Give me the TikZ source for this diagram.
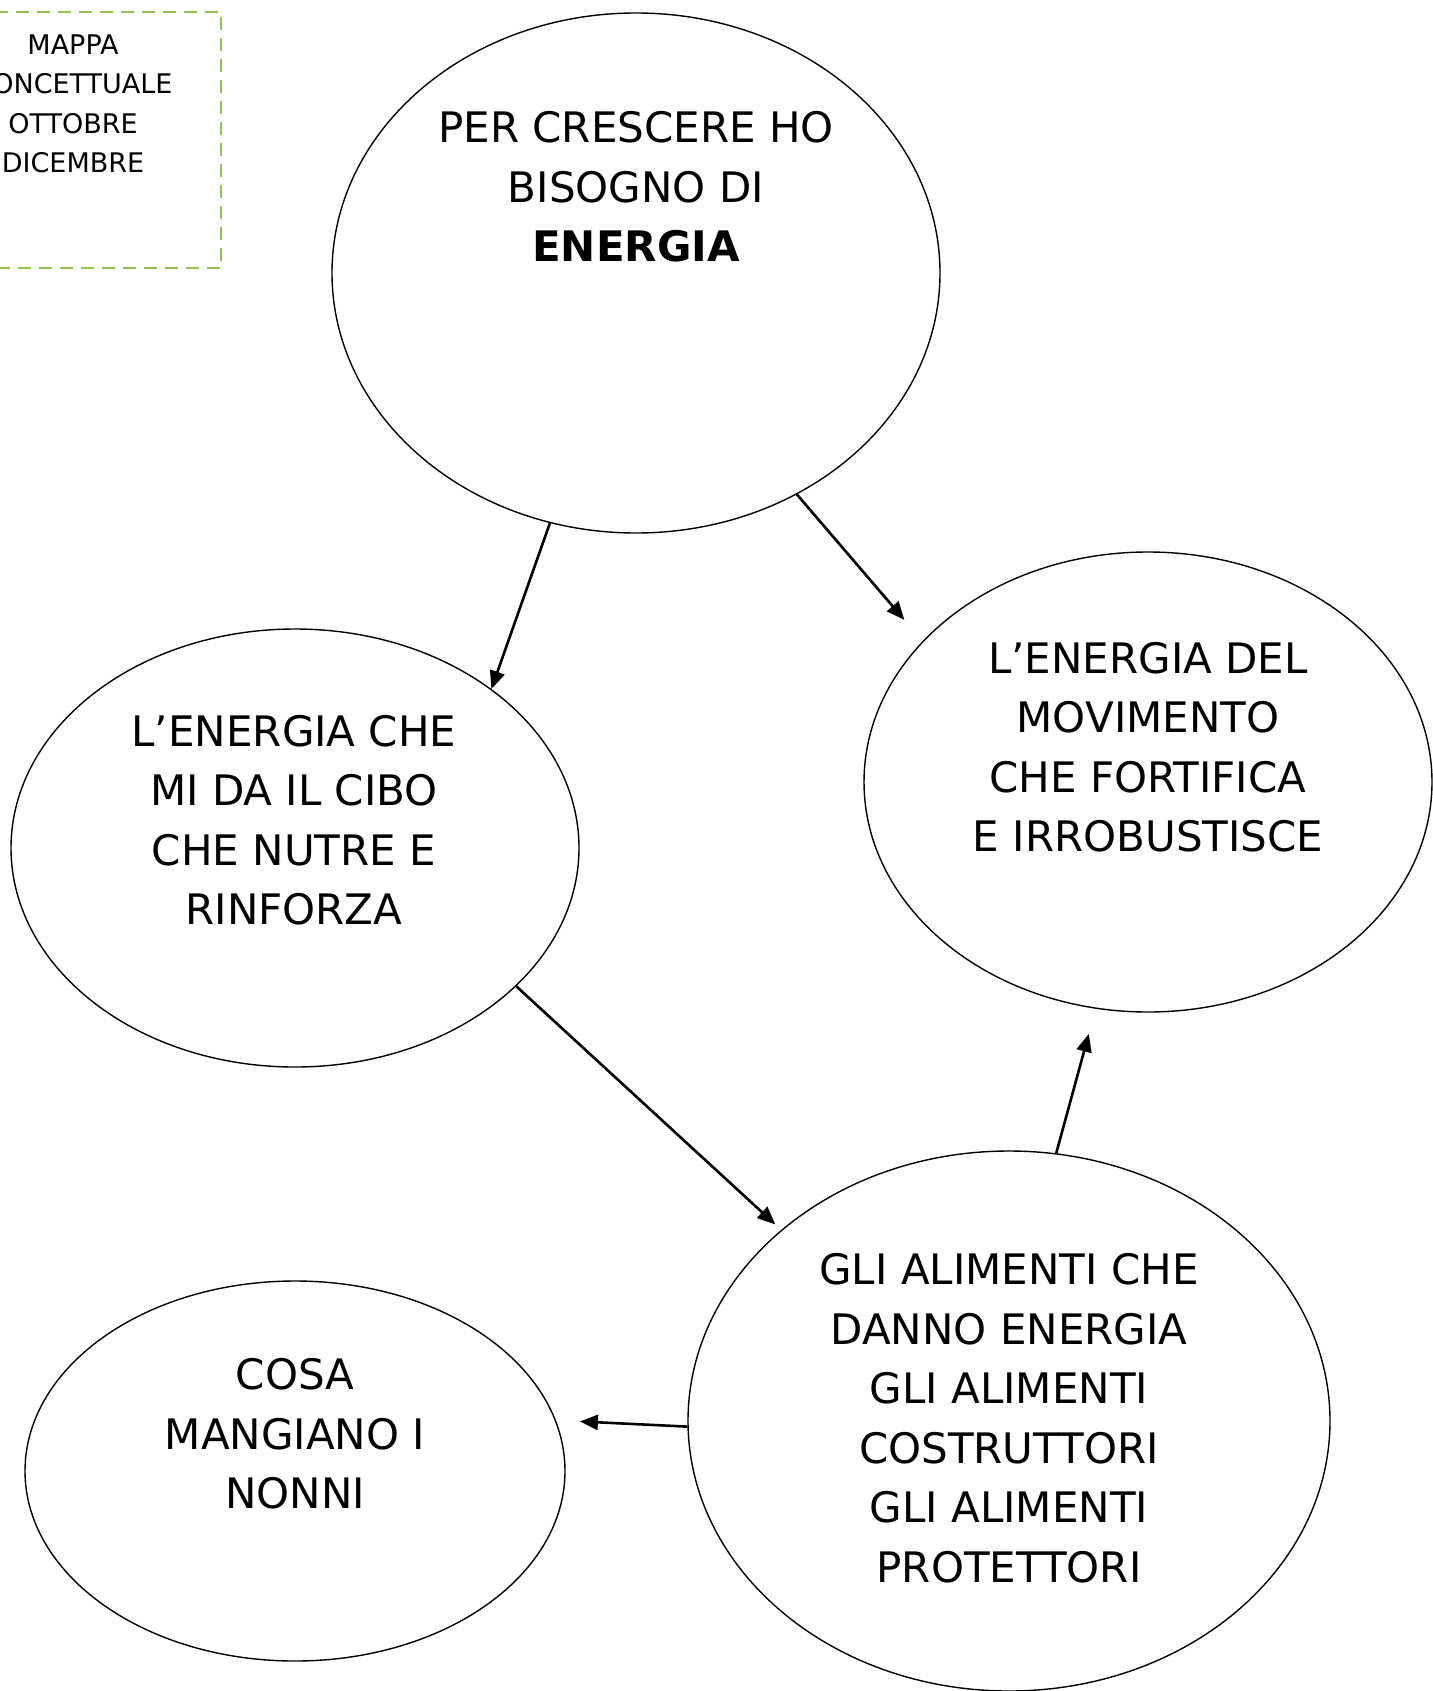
\documentclass[tikz,border=0pt]{standalone}
\usepackage{fontspec}
\setmainfont{DejaVu Sans}
\usetikzlibrary{shapes.geometric,arrows.meta}
\definecolor{verdecornice}{RGB}{150,195,80}

\begin{document}
\begin{tikzpicture}[x=0.5pt,y=-0.5pt,
	bolla/.style={ellipse,draw,line width=0.7pt,inner sep=0pt},
	testo/.style={align=center,font=\fontsize{21}{29.75}\selectfont},
	freccia/.style={->,line width=1.3pt},
	>={Triangle[length=9pt,width=7.5pt]}]
	\useasboundingbox (0,0) rectangle (1432,1691);
	%CORNICE
	\draw[verdecornice,line width=1pt,dash pattern=on 6.5pt off 4pt] (-20,12) rectangle (221,268);
	\node[align=center,font=\fontsize{13.5}{19.7}\selectfont] (titolo) at (73,104) {MAPPA\\CONCETTUALE\\OTTOBRE\\DICEMBRE};
	
	%BOLLE
	\node[bolla,minimum width=304pt,minimum height=260pt] (energia) at (636,273) {};
	\node[bolla,minimum width=284pt,minimum height=219pt] (cibo) at (295,848) {};
	\node[bolla,minimum width=284pt,minimum height=230pt] (movimento) at (1148,782) {};
	\node[bolla,minimum width=270pt,minimum height=190pt] (nonni) at (295,1471) {};
	\node[bolla,minimum width=321pt,minimum height=270pt] (alimenti) at (1009,1421) {};
	
	%TESTI
	\node[testo] (energiatxt) at (636,187) {PER CRESCERE HO\\BISOGNO DI\\\textbf{ENERGIA}};
	\node[testo] (cibotxt) at (294,820) {L’ENERGIA CHE\\MI DA IL CIBO\\CHE NUTRE E\\RINFORZA};
	\node[testo] (movimentotxt) at (1148,747) {L’ENERGIA DEL\\MOVIMENTO\\CHE FORTIFICA\\E IRROBUSTISCE};
	\node[testo] (nonnitxt) at (295,1434) {COSA\\MANGIANO I\\NONNI};
	\node[testo] (alimentitxt) at (1009,1418) {GLI ALIMENTI CHE\\DANNO ENERGIA\\GLI ALIMENTI\\COSTRUTTORI\\GLI ALIMENTI\\PROTETTORI};
	
	%FRECCE
	\draw[freccia] (energia.251) -- (cibo.39);
	\draw[freccia,shorten >=14pt] (energia.306) -- (movimento.148);
	\draw[freccia,shorten >=4pt] (cibo.328) -- (alimenti.140);
	\draw[freccia,shorten >=13pt] (alimenti.80) -- (movimento.257);
	\draw[freccia,shorten >=12pt] (alimenti.181) -- (nonni.11);
\end{tikzpicture}
\end{document}
